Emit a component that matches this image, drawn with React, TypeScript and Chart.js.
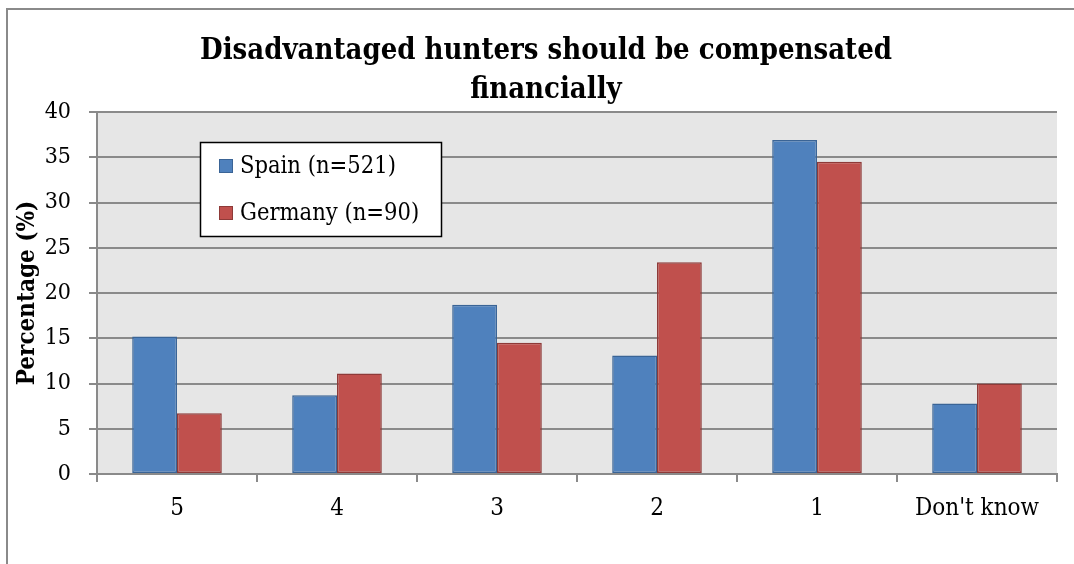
import React, { useEffect, useRef } from "react";
import { Chart, registerables } from "chart.js";

Chart.register(...registerables);

const categories = ["5", "4", "3", "2", "1", "Don't know"];
const spainValues = [15.2, 8.7, 18.7, 13.1, 36.9, 7.8];
const germanyValues = [6.7, 11.1, 14.5, 23.4, 34.5, 10.0];
const seriesLabels = ["Spain (n=521)", "Germany (n=90)"];
const titleLines = ["Disadvantaged hunters should be compensated", "financially"];
const yAxisTitle = "Percentage (%)";
const yMin = 0;
const yMax = 40;
const yStep = 5;

const FONT = "'DejaVu Serif Condensed', 'DejaVu Serif', serif";
const W = 1074;
const H = 564;

const bgPlugin = {
  id: "bgPlugin",
  beforeDraw(chart: any) {
    const { ctx, chartArea } = chart;
    ctx.save();
    ctx.fillStyle = "#ffffff";
    ctx.fillRect(0, 0, chart.width, chart.height);
    ctx.fillStyle = "#e6e6e6";
    ctx.fillRect(chartArea.left, chartArea.top, chartArea.right - chartArea.left, chartArea.bottom - chartArea.top);
    ctx.strokeStyle = "#8a8a8a";
    ctx.lineWidth = 2;
    ctx.beginPath();
    ctx.moveTo(7, H + 5);
    ctx.lineTo(7, 9);
    ctx.lineTo(W + 5, 9);
    ctx.stroke();
    ctx.restore();
  },
};

const titlePlugin = {
  id: "titlePlugin",
  afterDraw(chart: any) {
    const { ctx } = chart;
    ctx.save();
    ctx.fillStyle = "#000000";
    ctx.font = `bold 29px ${FONT}`;
    ctx.textAlign = "center";
    ctx.textBaseline = "alphabetic";
    ctx.fillText(titleLines[0], 546, 59);
    ctx.fillText(titleLines[1], 546, 98);
    ctx.restore();
  },
};

const legendPlugin = {
  id: "legendPlugin",
  afterDraw(chart: any) {
    const { ctx } = chart;
    const bx = 200, by = 142, bw = 241, bh = 94;
    ctx.save();
    ctx.fillStyle = "#ffffff";
    ctx.fillRect(bx, by, bw, bh);
    ctx.strokeStyle = "#000000";
    ctx.lineWidth = 1.5;
    ctx.strokeRect(bx + 0.5, by + 0.5, bw, bh);
    const rowsY = [166, 213];
    chart.data.datasets.forEach((ds: any, i: number) => {
      const cy = rowsY[i];
      ctx.fillStyle = ds.backgroundColor;
      ctx.fillRect(219, cy - 7, 14, 14);
      ctx.strokeStyle = ds.borderColor;
      ctx.lineWidth = 1;
      ctx.strokeRect(219.5, cy - 6.5, 13, 13);
      ctx.fillStyle = "#000000";
      ctx.font = `23.5px ${FONT}`;
      ctx.textAlign = "left";
      ctx.textBaseline = "middle";
      ctx.fillText(ds.label, 240, cy + 1);
    });
    ctx.restore();
  },
};

export default function App() {
  const ref = useRef<HTMLCanvasElement | null>(null);

  useEffect(() => {
    if (!ref.current) return;
    const chart = new Chart(ref.current, {
      type: "bar",
      data: {
        labels: categories,
        datasets: [
          {
            label: seriesLabels[0],
            data: spainValues,
            backgroundColor: "#4f81bd",
            borderColor: "#3a6496",
            borderWidth: 1.5,
            borderSkipped: false,
            categoryPercentage: 0.56,
            barPercentage: 1.0,
          },
          {
            label: seriesLabels[1],
            data: germanyValues,
            backgroundColor: "#c0504d",
            borderColor: "#8e3a38",
            borderWidth: 1.5,
            borderSkipped: false,
            categoryPercentage: 0.56,
            barPercentage: 1.0,
          },
        ],
      },
      options: {
        responsive: false,
        animation: false,
        devicePixelRatio: 1,
        layout: { padding: { top: 112, right: 17, bottom: 0, left: 0 } },
        plugins: {
          legend: { display: false },
          title: { display: false },
          tooltip: { enabled: false },
        },
        scales: {
          x: {
            offset: true,
            afterFit: (s: any) => {
              s.height = 90;
            },
            grid: {
              offset: true,
              drawOnChartArea: false,
              drawTicks: true,
              tickLength: 8,
              color: "#8a8a8a",
              lineWidth: 2,
            },
            border: { display: true, color: "#8a8a8a", width: 2 },
            ticks: {
              color: "#000000",
              font: { family: FONT, size: 24 },
              padding: 12,
              maxRotation: 0,
              autoSkip: false,
            },
          },
          y: {
            min: yMin,
            max: yMax,
            afterFit: (s: any) => {
              s.width = 97;
            },
            grid: {
              color: "#8a8a8a",
              lineWidth: 2,
              drawTicks: true,
              tickLength: 8,
            },
            border: { display: true, color: "#8a8a8a", width: 2 },
            ticks: {
              stepSize: yStep,
              color: "#000000",
              font: { family: FONT, size: 23 },
              padding: 18,
            },
            title: {
              display: true,
              text: yAxisTitle,
              color: "#000000",
              font: { family: FONT, size: 24, weight: "bold" },
              padding: { top: 13, bottom: 0 },
            },
          },
        },
      },
      plugins: [bgPlugin, titlePlugin, legendPlugin],
    });
    return () => chart.destroy();
  }, []);

  return (
    <div style={{ position: "fixed", left: 0, top: 0, width: W, height: H, background: "#fff" }}>
      <canvas ref={ref} width={W} height={H} style={{ display: "block", width: W, height: H }} />
    </div>
  );
}
